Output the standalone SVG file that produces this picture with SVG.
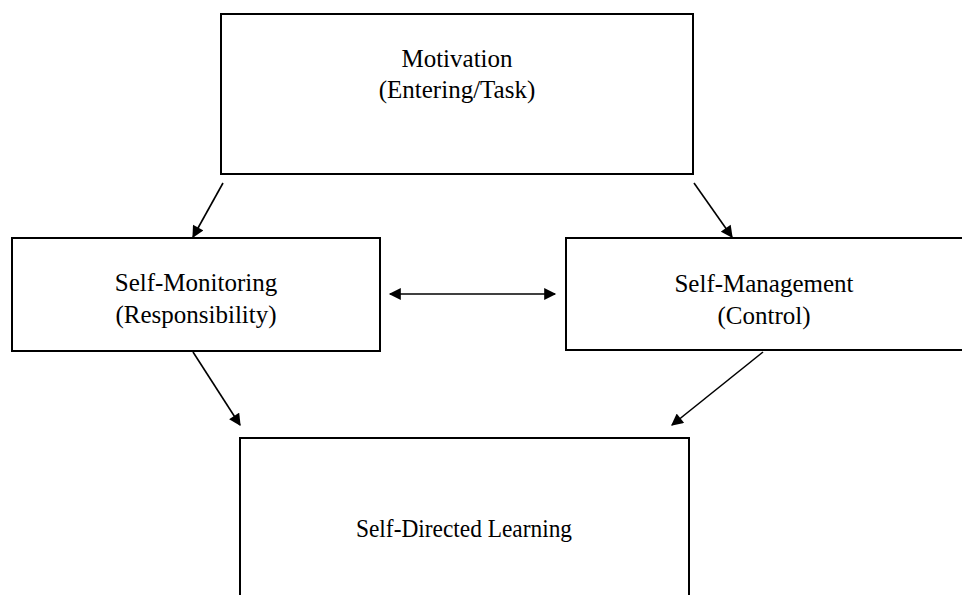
<svg xmlns="http://www.w3.org/2000/svg" width="962" height="595" viewBox="0 0 962 595">
<style>
.box{fill:#fff;stroke:#000;stroke-width:2}
.lbl{font-family:"Liberation Serif","Times New Roman",serif;font-size:25px;fill:#000;text-anchor:middle}
.conn{stroke:#000;stroke-width:1.6;fill:none}
</style>
<defs>
<marker id="ah2" viewBox="0 0 10 10" refX="9" refY="5" markerWidth="13" markerHeight="12" markerUnits="userSpaceOnUse" orient="auto-start-reverse">
<path d="M0,0 L10,5 L0,10 z" fill="#000"/>
</marker>
</defs>
<rect width="962" height="595" fill="#fff"/>
<g id="motivation">
<rect class="box" x="221" y="14" width="472" height="160"/>
<text class="lbl" x="457" y="67">Motivation</text>
<text class="lbl" x="457" y="98">(Entering/Task)</text>
</g>
<g id="self-monitoring">
<rect class="box" x="12" y="238" width="368" height="113"/>
<text class="lbl" x="196" y="291">Self-Monitoring</text>
<text class="lbl" x="196" y="323">(Responsibility)</text>
</g>
<g id="self-management">
<rect class="box" x="566" y="238" width="400" height="112"/>
<text class="lbl" x="764" y="292">Self-Management</text>
<text class="lbl" x="764" y="324">(Control)</text>
</g>
<g id="self-directed-learning">
<rect class="box" x="240" y="438" width="449" height="170"/>
<text class="lbl" x="464" y="537" textLength="216" lengthAdjust="spacingAndGlyphs">Self-Directed Learning</text>
</g>
<g id="connectors">
<line class="conn" x1="223" y1="183" x2="193" y2="237" marker-end="url(#ah2)"/>
<line class="conn" x1="694" y1="183" x2="732" y2="237" marker-end="url(#ah2)"/>
<line class="conn" x1="390" y1="294" x2="555" y2="294" stroke-width="2.2" marker-start="url(#ah2)" marker-end="url(#ah2)"/>
<line class="conn" x1="193" y1="352" x2="240" y2="425" marker-end="url(#ah2)"/>
<line class="conn" x1="763" y1="352" x2="672" y2="425" marker-end="url(#ah2)"/>
</g>
</svg>
